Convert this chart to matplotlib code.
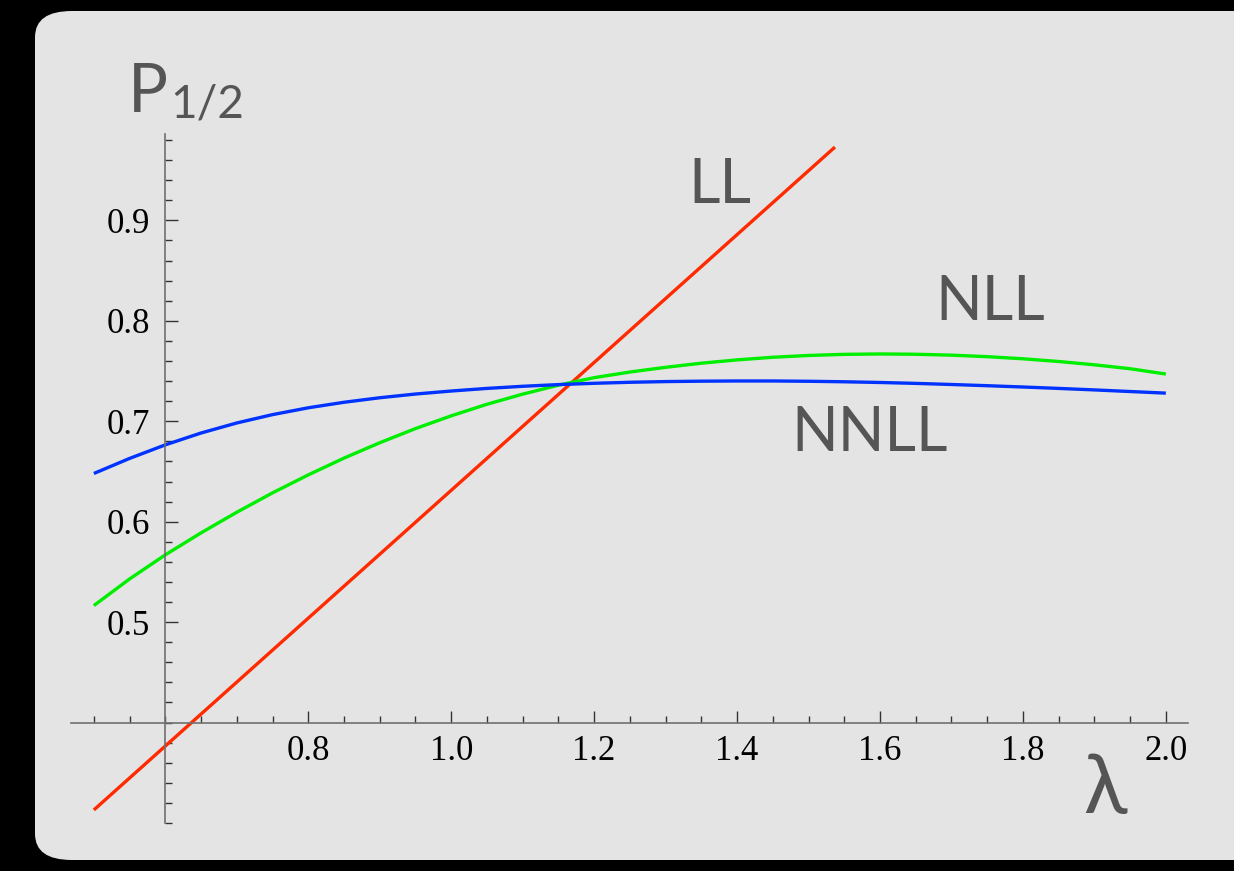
import matplotlib
matplotlib.use("Agg")
import matplotlib.pyplot as plt
from matplotlib.patches import FancyBboxPatch
from matplotlib.ticker import MultipleLocator, FixedLocator

# curves
lam = [0.50, 0.55, 0.60, 0.65, 0.70, 0.75, 0.80, 0.85, 0.90, 0.95, 1.00,
       1.05, 1.10, 1.15, 1.20, 1.25, 1.30, 1.35, 1.40, 1.45, 1.50,
       1.55, 1.60, 1.65, 1.70, 1.75, 1.80, 1.85, 1.90, 1.95, 2.00]
nll = [0.5165, 0.5430, 0.5670, 0.5889, 0.6094, 0.6287, 0.6466, 0.6633, 0.6786, 0.6927, 0.7054,
       0.7169, 0.7270, 0.7359, 0.7434, 0.7490, 0.7537, 0.7578, 0.7611, 0.7637, 0.7655,
       0.7666, 0.7670, 0.7667, 0.7658, 0.7643, 0.7622, 0.7595, 0.7562, 0.7523, 0.7470]
nnll = [0.6480, 0.6630, 0.6765, 0.6883, 0.6983, 0.7066, 0.7134, 0.7189, 0.7234, 0.7271, 0.7301,
        0.7327, 0.7348, 0.7365, 0.7378, 0.7388, 0.7395, 0.7399, 0.7401, 0.7401, 0.7398,
        0.7393, 0.7386, 0.7377, 0.7366, 0.7354, 0.7341, 0.7327, 0.7312, 0.7296, 0.7280]
ll_lam = [0.50, 1.537]
ll = [0.313, 0.973]

W, H = 1234, 871
fig = plt.figure(figsize=(W / 100, H / 100), dpi=100, facecolor="black")

# light grey card behind the plot
card = FancyBboxPatch((35 / W, 11 / H), (W + 40 - 35) / W, (860 - 11) / H,
                      boxstyle="round,pad=0,rounding_size=0.03",
                      transform=fig.transFigure, facecolor="#e4e4e4",
                      edgecolor="none", zorder=-5)
fig.patches.append(card)

ax = fig.add_axes([71 / W, (H - 823) / H, (1188 - 71) / W, (823 - 134) / H])
ax.set_zorder(2)
ax.set_facecolor("none")
ax.set_xlim(0.468, 2.031)
ax.set_ylim(0.3, 0.986)

kw = dict(lw=2.4, solid_capstyle="butt", solid_joinstyle="round")
ax.plot(ll_lam, ll, color="#ff2a00", **kw)
ax.plot(lam, nll, color="#00ee00", **kw)
ax.plot(lam, nnll, color="#0033ff", **kw)

# Mathematica style axes crossing at (0.6, 0.4)
for s in ["top", "right"]:
    ax.spines[s].set_visible(False)
ax.spines["left"].set_position(("data", 0.6))
ax.spines["bottom"].set_position(("data", 0.4))
for s in ["left", "bottom"]:
    ax.spines[s].set_color("#707070")
    ax.spines[s].set_linewidth(1.2)

ax.xaxis.set_major_locator(FixedLocator([0.8, 1.0, 1.2, 1.4, 1.6, 1.8, 2.0]))
ax.xaxis.set_minor_locator(MultipleLocator(0.05))
ax.yaxis.set_major_locator(FixedLocator([0.5, 0.6, 0.7, 0.8, 0.9]))
ax.yaxis.set_minor_locator(MultipleLocator(0.02))
ax.xaxis.set_major_formatter(lambda v, p: f"{v:.1f}")
ax.yaxis.set_major_formatter(lambda v, p: f"{v:.1f}")

ax.tick_params(which="both", direction="in", color="#333333", width=1.0,
               labelsize=25, labelcolor="black")
ax.tick_params(axis="x", pad=9)
ax.tick_params(axis="y", pad=11)
ax.tick_params(which="major", length=9)
ax.tick_params(which="minor", length=5)
for lab in ax.get_xticklabels() + ax.get_yticklabels():
    lab.set_family("Liberation Serif")

# labels in grey sans
grey = "#555555"
def put(x, y, s, size):
    fig.text(x / W, (H - y) / H, s, fontsize=size, color=grey,
             family="Lato", ha="left", va="baseline", zorder=3)

put(128, 112, "P", 48)
put(170, 118, "1/2", 33)
put(688, 203, "LL", 44)
put(935, 320, "NLL", 44)
put(791, 451, "NNLL", 44)
put(1083, 813, "\u03bb", 58)

fig.savefig("out.png", dpi=100, facecolor="black")
